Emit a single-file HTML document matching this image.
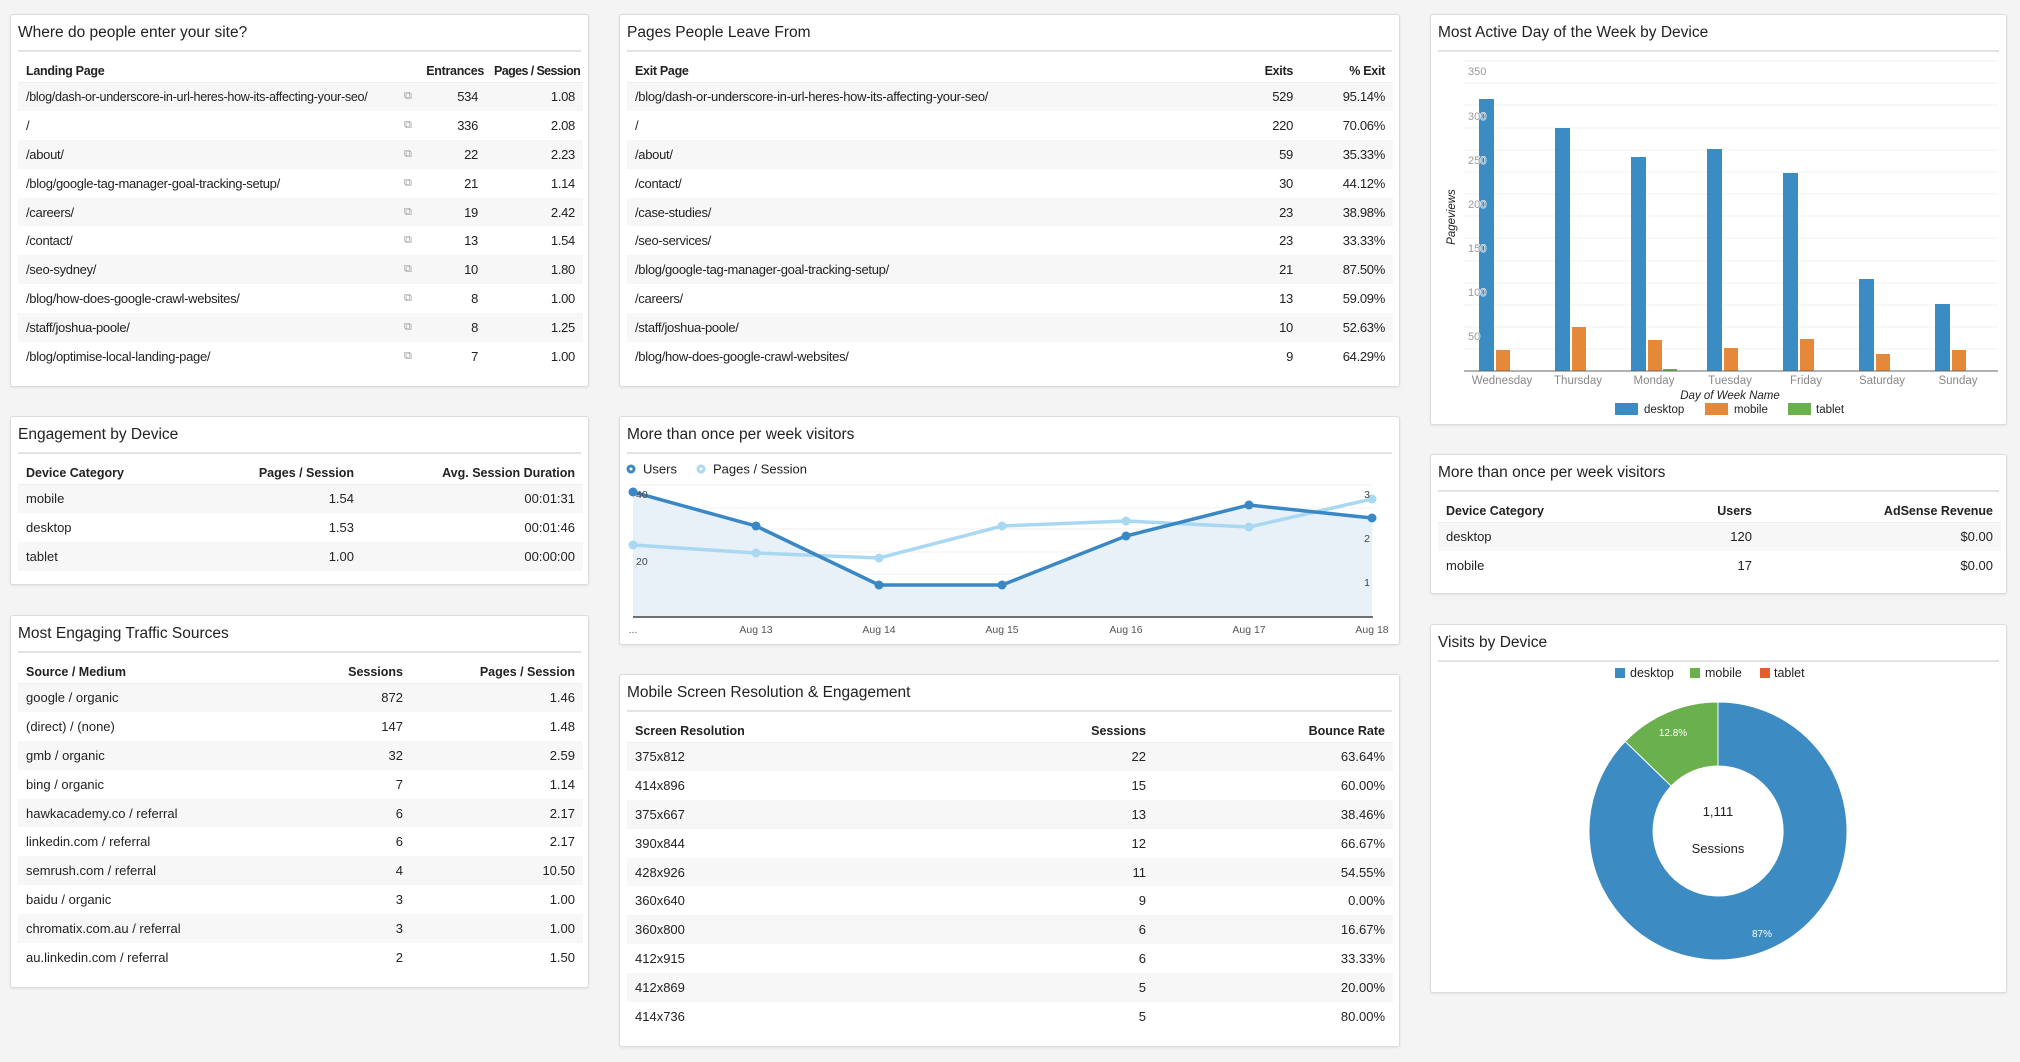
<!DOCTYPE html>
<html><head><meta charset="utf-8"><style>
*{box-sizing:border-box;margin:0;padding:0}
body{width:2020px;height:1062px;background:#f4f4f4;font-family:"Liberation Sans",Arial,sans-serif;color:#222;position:relative;overflow:hidden}
.p{position:absolute;background:#fff;border:1px solid #dcdcdc;border-radius:3px;box-shadow:0 1px 2px rgba(0,0,0,.08)}
.t{position:absolute;left:7px;top:7px;font-size:15.5px;line-height:22px;color:#222}
.d{position:absolute;left:7px;right:7px;top:35px;height:2px;background:#e3e3e3}
table{position:absolute;left:7px;top:45px;border-collapse:collapse;table-layout:fixed;font-size:13px}
th{height:22px;font-weight:bold;text-align:left;padding:0 8px;font-size:12.5px;border-bottom:1px solid #eee;white-space:nowrap;overflow:visible}
td{height:28.9px;padding:0 8px;white-space:nowrap;overflow:hidden}
tbody tr:nth-child(odd){background:#f7f7f7}
.r{text-align:right}
.ic{color:#999;font-size:11px;padding:0}
.sm td,.sm th{letter-spacing:-0.3px}
</style></head><body>

<div class="p" style="left:10px;top:14px;width:579px;height:373px">
<div class="t">Where do people enter your site?</div><div class="d"></div>
<table class="sm" style="width:565px"><colgroup><col style="width:386px"><col style="width:14px"><col style="width:68px"><col style="width:97px"></colgroup>
<thead><tr><th>Landing Page</th><th></th><th class="r" style="padding-right:2px">Entrances</th><th class="r" style="letter-spacing:-0.6px">Pages / Session</th></tr></thead><tbody>
<tr><td style="font-size:12.6px;padding-right:0">/blog/dash-or-underscore-in-url-heres-how-its-affecting-your-seo/</td><td class="ic">⧉</td><td class="r">534</td><td class="r">1.08</td></tr>
<tr><td>/</td><td class="ic">⧉</td><td class="r">336</td><td class="r">2.08</td></tr>
<tr><td>/about/</td><td class="ic">⧉</td><td class="r">22</td><td class="r">2.23</td></tr>
<tr><td>/blog/google-tag-manager-goal-tracking-setup/</td><td class="ic">⧉</td><td class="r">21</td><td class="r">1.14</td></tr>
<tr><td>/careers/</td><td class="ic">⧉</td><td class="r">19</td><td class="r">2.42</td></tr>
<tr><td>/contact/</td><td class="ic">⧉</td><td class="r">13</td><td class="r">1.54</td></tr>
<tr><td>/seo-sydney/</td><td class="ic">⧉</td><td class="r">10</td><td class="r">1.80</td></tr>
<tr><td>/blog/how-does-google-crawl-websites/</td><td class="ic">⧉</td><td class="r">8</td><td class="r">1.00</td></tr>
<tr><td>/staff/joshua-poole/</td><td class="ic">⧉</td><td class="r">8</td><td class="r">1.25</td></tr>
<tr><td>/blog/optimise-local-landing-page/</td><td class="ic">⧉</td><td class="r">7</td><td class="r">1.00</td></tr>
</tbody></table></div>

<div class="p" style="left:10px;top:416px;width:579px;height:169px">
<div class="t">Engagement by Device</div><div class="d"></div>
<table style="width:565px"><colgroup><col style="width:200px"><col style="width:144px"><col style="width:221px"></colgroup>
<thead><tr><th>Device Category</th><th class="r">Pages / Session</th><th class="r">Avg. Session Duration</th></tr></thead><tbody>
<tr><td>mobile</td><td class="r">1.54</td><td class="r">00:01:31</td></tr>
<tr><td>desktop</td><td class="r">1.53</td><td class="r">00:01:46</td></tr>
<tr><td>tablet</td><td class="r">1.00</td><td class="r">00:00:00</td></tr>
</tbody></table></div>

<div class="p" style="left:10px;top:615px;width:579px;height:373px">
<div class="t">Most Engaging Traffic Sources</div><div class="d"></div>
<table style="width:565px"><colgroup><col style="width:250px"><col style="width:143px"><col style="width:172px"></colgroup>
<thead><tr><th>Source / Medium</th><th class="r">Sessions</th><th class="r">Pages / Session</th></tr></thead><tbody>
<tr><td>google / organic</td><td class="r">872</td><td class="r">1.46</td></tr>
<tr><td>(direct) / (none)</td><td class="r">147</td><td class="r">1.48</td></tr>
<tr><td>gmb / organic</td><td class="r">32</td><td class="r">2.59</td></tr>
<tr><td>bing / organic</td><td class="r">7</td><td class="r">1.14</td></tr>
<tr><td>hawkacademy.co / referral</td><td class="r">6</td><td class="r">2.17</td></tr>
<tr><td>linkedin.com / referral</td><td class="r">6</td><td class="r">2.17</td></tr>
<tr><td>semrush.com / referral</td><td class="r">4</td><td class="r">10.50</td></tr>
<tr><td>baidu / organic</td><td class="r">3</td><td class="r">1.00</td></tr>
<tr><td>chromatix.com.au / referral</td><td class="r">3</td><td class="r">1.00</td></tr>
<tr><td>au.linkedin.com / referral</td><td class="r">2</td><td class="r">1.50</td></tr>
</tbody></table></div>

<div class="p" style="left:619px;top:14px;width:781px;height:373px">
<div class="t">Pages People Leave From</div><div class="d"></div>
<table class="sm" style="width:766px"><colgroup><col style="width:584px"><col style="width:90px"><col style="width:92px"></colgroup>
<thead><tr><th>Exit Page</th><th class="r">Exits</th><th class="r">% Exit</th></tr></thead><tbody>
<tr><td>/blog/dash-or-underscore-in-url-heres-how-its-affecting-your-seo/</td><td class="r">529</td><td class="r">95.14%</td></tr>
<tr><td>/</td><td class="r">220</td><td class="r">70.06%</td></tr>
<tr><td>/about/</td><td class="r">59</td><td class="r">35.33%</td></tr>
<tr><td>/contact/</td><td class="r">30</td><td class="r">44.12%</td></tr>
<tr><td>/case-studies/</td><td class="r">23</td><td class="r">38.98%</td></tr>
<tr><td>/seo-services/</td><td class="r">23</td><td class="r">33.33%</td></tr>
<tr><td>/blog/google-tag-manager-goal-tracking-setup/</td><td class="r">21</td><td class="r">87.50%</td></tr>
<tr><td>/careers/</td><td class="r">13</td><td class="r">59.09%</td></tr>
<tr><td>/staff/joshua-poole/</td><td class="r">10</td><td class="r">52.63%</td></tr>
<tr><td>/blog/how-does-google-crawl-websites/</td><td class="r">9</td><td class="r">64.29%</td></tr>
</tbody></table></div>

<div class="p" style="left:619px;top:416px;width:781px;height:229px">
<div class="t">More than once per week visitors</div><div class="d"></div></div>

<div class="p" style="left:619px;top:674px;width:781px;height:373px">
<div class="t">Mobile Screen Resolution &amp; Engagement</div><div class="d"></div>
<table style="width:766px"><colgroup><col style="width:400px"><col style="width:127px"><col style="width:239px"></colgroup>
<thead><tr><th>Screen Resolution</th><th class="r">Sessions</th><th class="r">Bounce Rate</th></tr></thead><tbody>
<tr><td>375x812</td><td class="r">22</td><td class="r">63.64%</td></tr>
<tr><td>414x896</td><td class="r">15</td><td class="r">60.00%</td></tr>
<tr><td>375x667</td><td class="r">13</td><td class="r">38.46%</td></tr>
<tr><td>390x844</td><td class="r">12</td><td class="r">66.67%</td></tr>
<tr><td>428x926</td><td class="r">11</td><td class="r">54.55%</td></tr>
<tr><td>360x640</td><td class="r">9</td><td class="r">0.00%</td></tr>
<tr><td>360x800</td><td class="r">6</td><td class="r">16.67%</td></tr>
<tr><td>412x915</td><td class="r">6</td><td class="r">33.33%</td></tr>
<tr><td>412x869</td><td class="r">5</td><td class="r">20.00%</td></tr>
<tr><td>414x736</td><td class="r">5</td><td class="r">80.00%</td></tr>
</tbody></table></div>

<div class="p" style="left:1430px;top:14px;width:577px;height:411px">
<div class="t">Most Active Day of the Week by Device</div><div class="d"></div></div>

<div class="p" style="left:1430px;top:454px;width:577px;height:140px">
<div class="t">More than once per week visitors</div><div class="d"></div>
<table style="width:563px"><colgroup><col style="width:200px"><col style="width:122px"><col style="width:241px"></colgroup>
<thead><tr><th>Device Category</th><th class="r">Users</th><th class="r">AdSense Revenue</th></tr></thead><tbody>
<tr><td>desktop</td><td class="r">120</td><td class="r">$0.00</td></tr>
<tr><td>mobile</td><td class="r">17</td><td class="r">$0.00</td></tr>
</tbody></table></div>

<div class="p" style="left:1430px;top:624px;width:577px;height:369px">
<div class="t">Visits by Device</div><div class="d"></div></div>

<svg width="2020" height="1062" style="position:absolute;left:0;top:0" font-family="Liberation Sans,Arial,sans-serif">
<g stroke="#f0f0f0" stroke-width="1">
<line x1="633" y1="485" x2="1373" y2="485"/><line x1="633" y1="508" x2="1373" y2="508"/><line x1="633" y1="529" x2="1373" y2="529"/><line x1="633" y1="552" x2="1373" y2="552"/><line x1="633" y1="574" x2="1373" y2="574"/><line x1="633" y1="597" x2="1373" y2="597"/>
</g>
<polygon points="633,492 756,526 879,585 1002,585 1126,536 1249,505 1372,518 1372,617 633,617" fill="#e8f0f8"/>
<line x1="633" y1="617" x2="1373" y2="617" stroke="#444" stroke-width="1.5"/>
<polyline points="633,545 756,553 879,558 1002,526 1126,521 1249,527 1372,499" fill="none" stroke="#a9d9f2" stroke-width="3.5"/>
<g fill="#a9d9f2"><circle cx="633" cy="545" r="4.5"/><circle cx="756" cy="553" r="4.5"/><circle cx="879" cy="558" r="4.5"/><circle cx="1002" cy="526" r="4.5"/><circle cx="1126" cy="521" r="4.5"/><circle cx="1249" cy="527" r="4.5"/><circle cx="1372" cy="499" r="4.5"/></g>
<polyline points="633,492 756,526 879,585 1002,585 1126,536 1249,505 1372,518" fill="none" stroke="#3a87c6" stroke-width="3.5"/>
<g fill="#3a87c6"><circle cx="633" cy="492" r="4.5"/><circle cx="756" cy="526" r="4.5"/><circle cx="879" cy="585" r="4.5"/><circle cx="1002" cy="585" r="4.5"/><circle cx="1126" cy="536" r="4.5"/><circle cx="1249" cy="505" r="4.5"/><circle cx="1372" cy="518" r="4.5"/></g>
<g font-size="10.5" fill="#444"><text x="636" y="498">40</text><text x="636" y="565">20</text>
<text x="1370" y="498" text-anchor="end">3</text><text x="1370" y="542" text-anchor="end">2</text><text x="1370" y="586" text-anchor="end">1</text></g>
<g font-size="10.5" fill="#555" text-anchor="middle"><text x="633" y="633">...</text><text x="756" y="633">Aug 13</text><text x="879" y="633">Aug 14</text><text x="1002" y="633">Aug 15</text><text x="1126" y="633">Aug 16</text><text x="1249" y="633">Aug 17</text><text x="1372" y="633">Aug 18</text></g>
<circle cx="631" cy="469" r="4.5" fill="#3a87c6"/><circle cx="631" cy="469" r="1.5" fill="#fff"/>
<text x="643" y="473.5" font-size="13" fill="#222">Users</text>
<circle cx="701" cy="469" r="4.5" fill="#a9d9f2"/><circle cx="701" cy="469" r="1.5" fill="#fff"/>
<text x="713" y="473.5" font-size="13" fill="#222">Pages / Session</text>

<g stroke="#f0f0f0" stroke-width="1">
<line x1="1464" x2="1998" y1="61" y2="61"/><line x1="1464" x2="1998" y1="83" y2="83"/><line x1="1464" x2="1998" y1="105" y2="105"/><line x1="1464" x2="1998" y1="128" y2="128"/><line x1="1464" x2="1998" y1="150" y2="150"/><line x1="1464" x2="1998" y1="172" y2="172"/><line x1="1464" x2="1998" y1="194" y2="194"/><line x1="1464" x2="1998" y1="216" y2="216"/><line x1="1464" x2="1998" y1="238" y2="238"/><line x1="1464" x2="1998" y1="261" y2="261"/><line x1="1464" x2="1998" y1="283" y2="283"/><line x1="1464" x2="1998" y1="305" y2="305"/><line x1="1464" x2="1998" y1="327" y2="327"/><line x1="1464" x2="1998" y1="349" y2="349"/>
</g>
<g fill="#3c8cc4">
<rect x="1479" y="99" width="15" height="272"/><rect x="1555" y="128" width="15" height="243"/><rect x="1631" y="157" width="15" height="214"/><rect x="1707" y="149" width="15" height="222"/><rect x="1783" y="173" width="15" height="198"/><rect x="1859" y="279" width="15" height="92"/><rect x="1935" y="304" width="15" height="67"/>
</g>
<g fill="#e5883a">
<rect x="1496" y="350" width="14" height="21"/><rect x="1572" y="327" width="14" height="44"/><rect x="1648" y="340" width="14" height="31"/><rect x="1724" y="348" width="14" height="23"/><rect x="1800" y="339" width="14" height="32"/><rect x="1876" y="354" width="14" height="17"/><rect x="1952" y="350" width="14" height="21"/>
</g>
<rect x="1663" y="369" width="14" height="2" fill="#6ab04c"/>
<line x1="1464" x2="1998" y1="371" y2="371" stroke="#666" stroke-width="1"/>
<g font-size="11" fill="#999" stroke="#fff" stroke-width="1" paint-order="stroke"><text x="1468" y="75">350</text><text x="1468" y="120">300</text><text x="1468" y="164">250</text><text x="1468" y="208">200</text><text x="1468" y="252">150</text><text x="1468" y="296">100</text><text x="1468" y="340">50</text></g>
<g font-size="11.5" fill="#888" text-anchor="middle"><text x="1502" y="384">Wednesday</text><text x="1578" y="384">Thursday</text><text x="1654" y="384">Monday</text><text x="1730" y="384">Tuesday</text><text x="1806" y="384">Friday</text><text x="1882" y="384">Saturday</text><text x="1958" y="384">Sunday</text></g>
<text x="1730" y="399" font-size="11.5" font-style="italic" text-anchor="middle" fill="#222">Day of Week Name</text>
<text transform="translate(1455,217) rotate(-90)" font-size="11.5" font-style="italic" text-anchor="middle" fill="#222">Pageviews</text>
<rect x="1615" y="403" width="23" height="12" fill="#3c8cc4"/><text x="1644" y="413" font-size="11.5" fill="#222">desktop</text>
<rect x="1705" y="403" width="23" height="12" fill="#e5883a"/><text x="1734" y="413" font-size="11.5" fill="#222">mobile</text>
<rect x="1788" y="403" width="23" height="12" fill="#6ab04c"/><text x="1816" y="413" font-size="11.5" fill="#222">tablet</text>

<rect x="1615" y="668" width="10" height="10" fill="#3c8cc4"/><text x="1630" y="677" font-size="12.5" fill="#222">desktop</text>
<rect x="1690" y="668" width="10" height="10" fill="#6ab04c"/><text x="1705" y="677" font-size="12.5" fill="#222">mobile</text>
<rect x="1760" y="668" width="10" height="10" fill="#e0602c"/><text x="1774" y="677" font-size="12.5" fill="#222">tablet</text>
<path d="M1718,702 A129,129 0 1 1 1625.2,741.4 L1671.2,786 A65,65 0 1 0 1718,766 Z" fill="#3d8bc3" stroke="#fff" stroke-width="1"/>
<path d="M1718,702 L1718,766 A65,65 0 0 0 1671.2,786 L1625.2,741.4 A129,129 0 0 1 1718,702 Z" fill="#6ab04c" stroke="#fff" stroke-width="1"/>
<text x="1718" y="816" font-size="13" text-anchor="middle" fill="#222">1,111</text>
<text x="1718" y="853" font-size="13" text-anchor="middle" fill="#222">Sessions</text>
<text x="1673" y="736" font-size="10" text-anchor="middle" fill="#fff">12.8%</text>
<text x="1762" y="937" font-size="10" text-anchor="middle" fill="#fff">87%</text>
</svg>
</body></html>
